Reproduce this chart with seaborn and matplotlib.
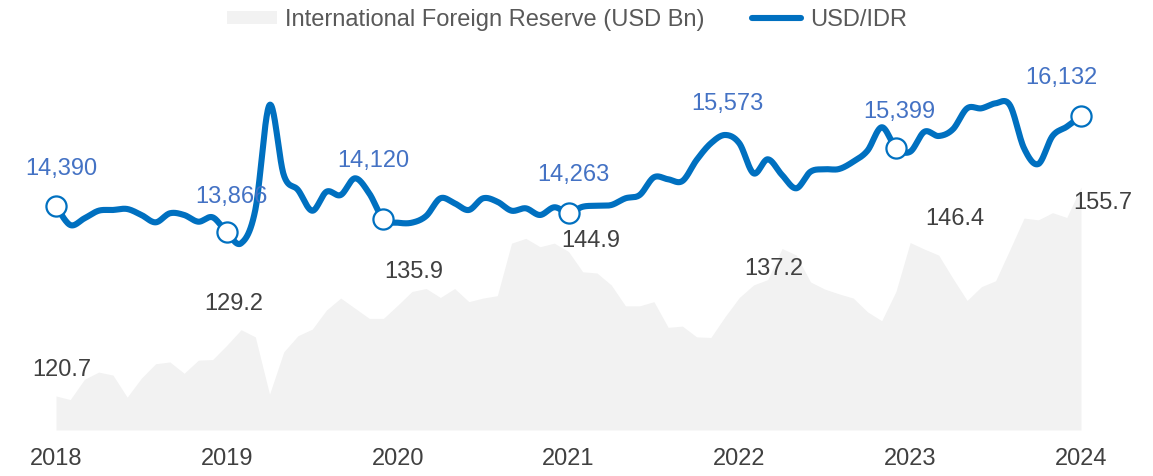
import numpy as np
import pandas as pd
import matplotlib.pyplot as plt
import seaborn as sns
from matplotlib.patches import Patch
from matplotlib.lines import Line2D

# Monthly points, Dec 2018 .. Dec 2024 (73 points)
reserve = [120.7, 120.1, 123.5, 124.7, 124.2, 120.5, 123.7, 126.1, 126.4, 124.5,
           126.7, 126.8, 129.2, 131.8, 130.6, 121.0, 128.1, 130.8, 131.9, 135.1,
           137.1, 135.4, 133.7, 133.7, 135.9, 138.2, 138.7, 137.2, 138.7, 136.5,
           137.1, 137.5, 146.3, 147.1, 145.7, 146.3, 144.9, 141.5, 141.3, 139.3,
           135.8, 135.8, 136.5, 132.2, 132.4, 130.6, 130.5, 134.0, 137.2, 139.3,
           140.2, 145.4, 144.3, 139.8, 138.6, 137.8, 137.1, 134.8, 133.3, 138.2,
           146.4, 145.3, 144.3, 140.4, 136.7, 139.0, 140.0, 145.2, 150.5, 150.2,
           151.4, 150.6, 155.7]

usd_idr = [14390, 14022, 14152, 14299, 14313, 14332, 14216, 14074, 14249, 14216,
           14086, 14171, 13880, 13668, 14313, 16345, 14990, 14700, 14299, 14667,
           14603, 14926, 14636, 14133, 14067, 14067, 14196, 14539, 14442, 14313,
           14539, 14473, 14299, 14345, 14216, 14365, 14260, 14376, 14396, 14409,
           14539, 14603, 14946, 14907, 14874, 15281, 15604, 15765, 15604, 15023,
           15294, 14990, 14733, 15054, 15101, 15106, 15248, 15461, 15914, 15519,
           15441, 15828, 15745, 15875, 16281, 16281, 16378, 16345, 15507, 15203,
           15745, 15925, 16132]

years = ["2018", "2019", "2020", "2021", "2022", "2023", "2024"]

# labelled points
idr_label_idx = [0, 12, 23, 36, 47, 59, 72]
idr_label_txt = ["14,390", "13,866", "14,120", "14,263", "15,573", "15,399", "16,132"]
idr_marker_idx = [0, 12, 23, 36, 59, 72]
res_label_idx = [0, 12, 24, 36, 48, 60, 72]
res_label_txt = ["120.7", "129.2", "135.9", "144.9", "137.2", "146.4", "155.7"]

# label offsets in pixels (layout only)
idr_offsets = [(5, 37), (5, 35), (-10, 58), (5, 38), (2, 31), (3, 36), (-20, 38)]
res_offsets = [(6, 26), (7, 41), (16, 33), (22, 10), (34, 28), (45, 24), (22, -16)]

BLUE = "#0070C0"
LABEL_BLUE = "#4472C4"
GREY_AREA = "#F2F2F2"
TEXT = "#404040"


def catmull_rom(x, y, n=20):
    # Excel-style smoothed line through the points
    x = np.asarray(x, float)
    y = np.asarray(y, float)
    px = np.concatenate([[x[0]], x, [x[-1]]])
    py = np.concatenate([[y[0]], y, [y[-1]]])
    t = np.linspace(0, 1, n, endpoint=False)
    xs, ys = [], []
    for i in range(1, len(px) - 2):
        for arr, out in ((px, xs), (py, ys)):
            p0, p1, p2, p3 = arr[i - 1], arr[i], arr[i + 1], arr[i + 2]
            out.append(0.5 * (2 * p1 + (-p0 + p2) * t
                              + (2 * p0 - 5 * p1 + 4 * p2 - p3) * t ** 2
                              + (-p0 + 3 * p1 - 3 * p2 + p3) * t ** 3))
    xs.append([x[-1]])
    ys.append([y[-1]])
    return np.concatenate(xs), np.concatenate(ys)


months = np.arange(len(reserve))
df = pd.DataFrame({"month": months, "reserve": reserve, "usd_idr": usd_idr})

sns.set_theme(style="white")
plt.rcParams["font.family"] = ["Liberation Sans", "DejaVu Sans"]

W, H = 1153, 476
fig = plt.figure(figsize=(W / 100, H / 100), dpi=100)
x0, x1 = 56, 1081
ytop, ybot = 60, 430
pos = [x0 / W, (H - ybot) / H, (x1 - x0) / W, (ybot - ytop) / H]
ax = fig.add_axes(pos)

# reserves area
ax.fill_between(df["month"], 115, df["reserve"], color=GREY_AREA, lw=0, zorder=1)
ax.set_xlim(0, 72)
ax.set_ylim(115, 115 + (ybot - ytop) / 5.97)
ax.set_yticks([])
ax.set_xticks(range(0, 73, 12))
ax.set_xticklabels(years, fontsize=17, color=TEXT)
ax.tick_params(axis="x", length=0, pad=13)
for s in ax.spines.values():
    s.set_visible(False)
ax.set_xlabel("")
ax.set_ylabel("")

for i, txt, off in zip(res_label_idx, res_label_txt, res_offsets):
    ax.annotate(txt, (df["month"][i], df["reserve"][i]), xytext=off,
                textcoords="offset pixels", ha="center", va="center",
                fontsize=17, color=TEXT, zorder=5)

# USD/IDR line on twin axis
ax2 = ax.twinx()
ax2.set_position(pos)
sx, sy = catmull_rom(df["month"], df["usd_idr"], n=24)
smooth = pd.DataFrame({"month": sx, "usd_idr": sy})
sns.lineplot(data=smooth, x="month", y="usd_idr", ax=ax2, color=BLUE, lw=4.4,
             sort=False, estimator=None, solid_capstyle="round")
for l in ax2.lines:
    l.set_clip_on(False)
mk = df.loc[idr_marker_idx]
ax2.plot(mk["month"], mk["usd_idr"], "o", ms=14.5, mfc="white", mec=BLUE,
         mew=1.6, clip_on=False, zorder=6)
lo = 14390 - (ybot - 206) * 19.36
hi = 14390 + (206 - ytop) * 19.36
ax2.set_ylim(lo, hi)
ax2.set_xlim(0, 72)
ax2.set_yticks([])
ax2.set_xlabel("")
ax2.set_ylabel("")
for s in ax2.spines.values():
    s.set_visible(False)

for i, txt, off in zip(idr_label_idx, idr_label_txt, idr_offsets):
    ax2.annotate(txt, (df["month"][i], df["usd_idr"][i]), xytext=off,
                 textcoords="offset pixels", ha="center", va="center",
                 fontsize=17, color=LABEL_BLUE, zorder=7)

handles = [Patch(facecolor=GREY_AREA, edgecolor="none"),
           Line2D([0], [0], color=BLUE, lw=4.4)]
fig.legend(handles, ["International Foreign Reserve (USD Bn)", "USD/IDR"],
           loc="center", bbox_to_anchor=(567 / W, 1 - 20 / H), ncol=2,
           frameon=False, fontsize=17, labelcolor="#595959",
           handlelength=2.1, handleheight=0.5, handletextpad=0.35,
           columnspacing=2.0)

fig.savefig("out.png", dpi=100, facecolor="white")
